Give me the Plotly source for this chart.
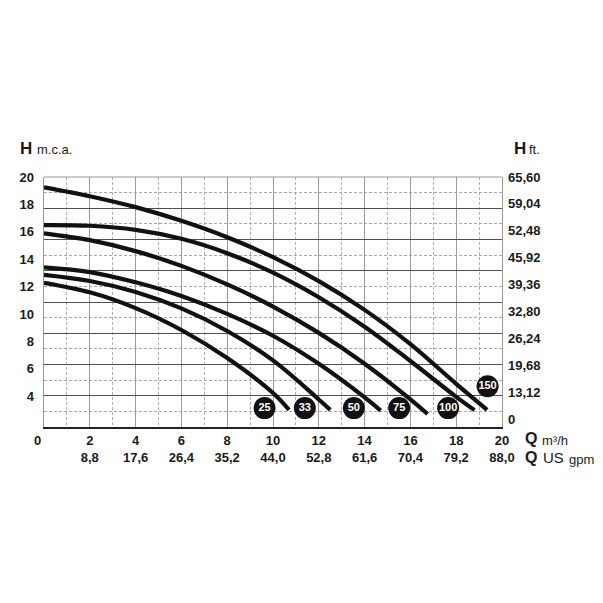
import plotly.graph_objects as go

# ---------------- data ----------------
flow_ticks = [0, 2, 4, 6, 8, 10, 12, 14, 16, 18, 20]
flow_labels = ["0", "2", "4", "6", "8", "10", "12", "14", "16", "18", "20"]
gpm_labels = ["", "8,8", "17,6", "26,4", "35,2", "44,0", "52,8", "61,6", "70,4", "79,2", "88,0"]
head_ticks = [4, 6, 8, 10, 12, 14, 16, 18, 20]
ft_labels = ["0", "13,12", "19,68", "26,24", "32,80", "39,36", "45,92", "52,48", "59,04", "65,60"]

c25_q = [0, 2, 4, 6, 8, 10, 10.7]
c25_h = [12.28, 11.58, 10.43, 8.83, 6.78, 4.23, 3.0]
c33_q = [0, 2, 4, 6, 8, 10, 12, 12.5]
c33_h = [12.86, 12.41, 11.61, 10.41, 8.76, 6.61, 3.76, 3.0]
c50_q = [0, 2, 4, 6, 8, 10, 12, 14, 14.7]
c50_h = [13.41, 13.06, 12.31, 11.31, 10.01, 8.41, 6.36, 3.91, 2.95]
c75_q = [0, 2, 4, 6, 8, 10, 12, 14, 16, 16.75]
c75_h = [15.89, 15.39, 14.59, 13.51, 12.16, 10.54, 8.62, 6.37, 3.77, 2.7]
c100_q = [0, 2, 4, 6, 8, 10, 12, 14, 16, 18, 18.8]
c100_h = [16.49, 16.44, 16.14, 15.49, 14.44, 13.02, 11.22, 9.07, 6.57, 3.95, 2.98]
c150_q = [0, 2, 4, 6, 8, 10, 12, 14, 16, 18, 19.35]
c150_h = [19.25, 18.60, 17.80, 16.80, 15.60, 14.15, 12.40, 10.30, 7.80, 4.90, 3.0]

badge_q = [9.63, 11.39, 13.53, 15.51, 17.65, 19.37]
badge_h = [3.13, 3.13, 3.13, 3.13, 3.13, 4.73]
badge_txt = ["25", "33", "50", "75", "100", "150"]

curves = [(c25_q, c25_h), (c33_q, c33_h), (c50_q, c50_h),
          (c75_q, c75_h), (c100_q, c100_h), (c150_q, c150_h)]

FONT = "Liberation Sans, Arial, sans-serif"
H_MIN, H_MAX = 1.75, 20.0          # head-axis range (m)
GRID_STEP = (H_MAX - H_MIN) / 16   # grid spacing of the printed chart

fig = go.Figure()

for q, h in curves:
    fig.add_trace(go.Scatter(x=q, y=h, mode="lines", xaxis="x", yaxis="y",
                             line=dict(color="#111111", width=4.2, shape="spline", smoothing=1.0),
                             hoverinfo="skip", showlegend=False))

fig.add_trace(go.Scatter(x=badge_q, y=badge_h, mode="markers+text", xaxis="x", yaxis="y",
                         text=badge_txt, textposition="middle center",
                         textfont=dict(family=FONT, size=11, color="white", weight="bold"),
                         marker=dict(size=22, color="#111111"),
                         hoverinfo="skip", showlegend=False))

# invisible helpers so the label axes are drawn
fig.add_trace(go.Scatter(x=[flow_ticks[0]], y=[head_ticks[0]], mode="markers", xaxis="x", yaxis="y2",
                         marker=dict(opacity=0), hoverinfo="skip", showlegend=False))
fig.add_trace(go.Scatter(x=[flow_ticks[0]], y=[0], mode="markers", xaxis="x", yaxis="y3",
                         marker=dict(opacity=0), hoverinfo="skip", showlegend=False))

# origin label "0" is printed left of the axis in the original, so it is an annotation
tick_text = [""] + [f"{a}<br>{b}" for a, b in zip(flow_labels[1:], gpm_labels[1:])]

# page is drawn with an 8px body margin -> figure 595x595 offset by 8
fig.update_layout(
    width=595, height=595,
    margin=dict(l=28, r=101, t=169, b=176),
    paper_bgcolor="white", plot_bgcolor="white",
    font=dict(family=FONT, color="#1a1a1a"),
    xaxis=dict(range=[0, 20], tickvals=flow_ticks, ticktext=tick_text,
               ticks="", showgrid=True, gridcolor="#9a9a9a", gridwidth=1,
               minor=dict(dtick=1, showgrid=True, gridcolor="#b0b0b0", griddash="3px,2px", gridwidth=1),
               tickfont=dict(family=FONT, size=13, color="#1a1a1a", weight="bold"),
               showline=True, linecolor="#222222", linewidth=1.5, zeroline=False,
               ticklabelstandoff=1),
    yaxis=dict(range=[H_MIN, H_MAX], tick0=H_MIN, dtick=2 * GRID_STEP, showticklabels=False, ticks="",
               showgrid=True, gridcolor="#505050", gridwidth=1,
               minor=dict(tick0=H_MIN, dtick=GRID_STEP, showgrid=True, gridcolor="#a8a8a8",
                          griddash="3px,2px", gridwidth=1),
               showline=True, linecolor="#999999", mirror=True, zeroline=False),
    yaxis2=dict(range=[H_MIN, H_MAX], overlaying="y", side="left", tickvals=head_ticks,
                showgrid=False, ticks="", zeroline=False, showline=False,
                tickfont=dict(family=FONT, size=13, color="#1a1a1a", weight="bold"),
                ticklabelstandoff=9),
    yaxis3=dict(range=[-0.3, 9.0], overlaying="y", side="right",
                tickvals=list(range(len(ft_labels))), ticktext=ft_labels,
                showgrid=False, ticks="", zeroline=False, showline=False,
                tickfont=dict(family=FONT, size=13, color="#1a1a1a", weight="bold"),
                ticklabelstandoff=5),
)

fig.add_shape(type="line", xref="paper", yref="paper", x0=0, x1=1, y0=1, y1=1,
              line=dict(color="#999999", width=1))

ann = dict(showarrow=False, xref="paper", yref="paper", borderpad=0, borderwidth=0)
def px_x(px):
    return (px - 8 - 28) / 466
def px_y(py):
    return (427 - py) / 250

def note(text, px, py, size, bold=False, anchor="left"):
    fig.add_annotation(text=f"<b>{text}</b>" if bold else text, x=px_x(px), y=px_y(py),
                       xanchor=anchor, yanchor="middle",
                       font=dict(family=FONT, size=size, color="#1a1a1a"), **ann)

note(flow_labels[0], 29, 440, 13, True, anchor="center")
note("H", 12, 149, 17, True)
note("m.c.a.", 29, 150, 13)
note("H", 514, 149, 17, True)
note("ft.", 529, 150, 13)
note("Q", 525, 438, 16, True)
note("m³/h", 543, 440, 13)
note("Q", 525, 457, 16, True)
note("US", 544, 457, 15)
note("gpm", 570, 459, 13)

fig.write_html("out.html")
